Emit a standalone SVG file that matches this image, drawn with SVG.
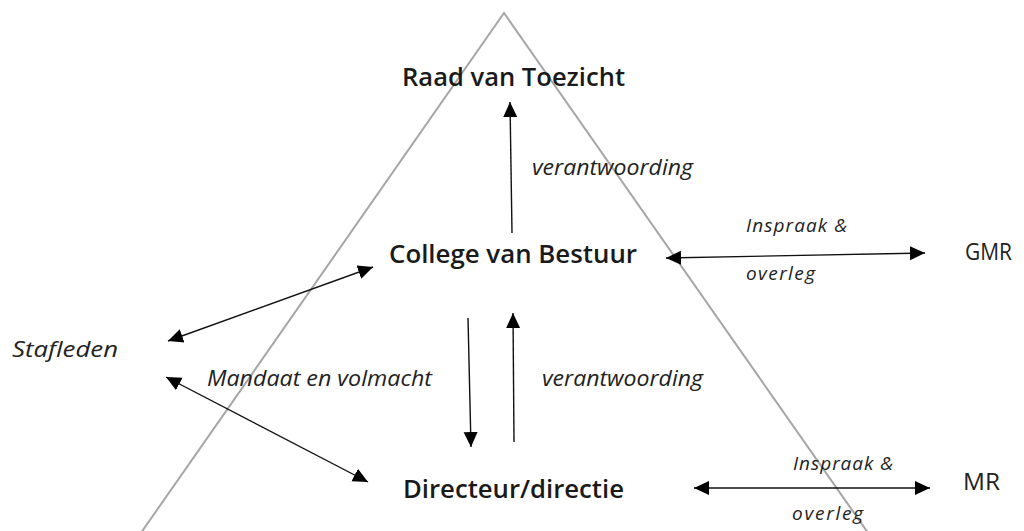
<svg xmlns="http://www.w3.org/2000/svg" width="1024" height="531" viewBox="0 0 1024 531">
<style>
.title{font-family:"Open Sans","Liberation Sans",sans-serif;font-weight:600;font-size:26px;fill:#1a1a1a}
.lbl{font-family:"Open Sans","Liberation Sans",sans-serif;font-style:italic;font-size:21.5px;fill:#222}
.small{font-family:"Open Sans","Liberation Sans",sans-serif;font-style:italic;font-size:19px;fill:#222}
.side{font-family:"Open Sans","Liberation Sans",sans-serif;font-size:23px;fill:#222}
.conn{stroke:#111;stroke-width:1.4;fill:none;marker-end:url(#ah)}
.dbl{marker-start:url(#ah)}
</style>
<defs>
<marker id="ah" markerUnits="userSpaceOnUse" markerWidth="16" markerHeight="16" viewBox="0 0 16 16" refX="15" refY="8" orient="auto-start-reverse">
<path d="M0,1 L15,8 L0,15 Z" fill="#000"/>
</marker>
</defs>
<rect width="1024" height="531" fill="#fff"/>
<polyline id="triangle" points="136,540 504,13 873,540" fill="none" stroke="#a6a6a6" stroke-width="2"/>
<g id="connectors">
<line class="conn" x1="512" y1="233" x2="510" y2="102"/>
<line class="conn dbl" x1="666" y1="258" x2="925" y2="253"/>
<line class="conn dbl" x1="168" y1="341" x2="373" y2="267"/>
<line class="conn dbl" x1="166" y1="377" x2="368" y2="482"/>
<line class="conn" x1="468" y1="318" x2="471" y2="447"/>
<line class="conn" x1="514" y1="442" x2="513" y2="313"/>
<line class="conn dbl" x1="694" y1="488" x2="930" y2="488"/>
</g>
<g id="labels">
<text class="lbl" x="532" y="175" textLength="161" lengthAdjust="spacingAndGlyphs">verantwoording</text>
<text class="lbl" x="542" y="386" textLength="161" lengthAdjust="spacingAndGlyphs">verantwoording</text>
<text class="lbl" x="207" y="386" textLength="225" lengthAdjust="spacingAndGlyphs">Mandaat en volmacht</text>
<text class="small" x="746" y="232" textLength="101">Inspraak &amp;</text>
<text class="small" x="746" y="280" textLength="69">overleg</text>
<text class="small" x="793" y="470" textLength="100">Inspraak &amp;</text>
<text class="small" x="792" y="520" textLength="71">overleg</text>
</g>
<g id="raad"><text class="title" x="402" y="86" textLength="223" lengthAdjust="spacingAndGlyphs">Raad van Toezicht</text></g>
<g id="college"><text class="title" x="389" y="263" textLength="248" lengthAdjust="spacingAndGlyphs">College van Bestuur</text></g>
<g id="directeur"><text class="title" x="403" y="498" textLength="221" lengthAdjust="spacingAndGlyphs">Directeur/directie</text></g>
<g id="stafleden"><text class="lbl" x="12" y="357" textLength="106" lengthAdjust="spacingAndGlyphs">Stafleden</text></g>
<g id="gmr"><text class="side" x="965" y="260" textLength="47" lengthAdjust="spacingAndGlyphs">GMR</text></g>
<g id="mr"><text class="side" x="963" y="490" textLength="37" lengthAdjust="spacingAndGlyphs">MR</text></g>
</svg>
